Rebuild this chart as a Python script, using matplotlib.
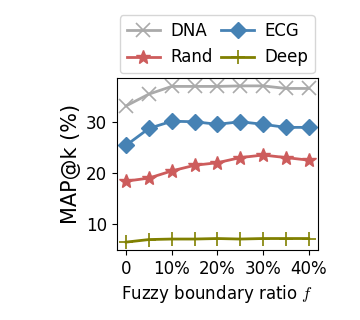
import matplotlib
matplotlib.use('Agg')
import matplotlib.pyplot as plt

plt.rcParams['mathtext.fontset'] = 'cm'

# fuzzy boundary ratio f
ratio = [0, 0.05, 0.10, 0.15, 0.20, 0.25, 0.30, 0.35, 0.40]
dna = [33.1, 35.4, 36.9, 36.9, 36.9, 37.0, 37.0, 36.5, 36.5]
ecg = [25.4, 28.7, 30.1, 30.0, 29.5, 30.0, 29.5, 28.9, 28.9]
rand = [18.4, 19.0, 20.4, 21.5, 22.0, 23.0, 23.5, 23.0, 22.5]
deep = [6.5, 7.0, 7.1, 7.1, 7.2, 7.1, 7.2, 7.2, 7.2]

xticks = [0, 0.1, 0.2, 0.3, 0.4]
xticklabels = ['0', '10%', '20%', '30%', '40%']

fig = plt.figure(figsize=(3.6, 3.2), dpi=100)
ax = fig.add_axes([0.325, 0.219, 0.558, 0.537])

ax.plot(ratio, dna, marker='x', color='#aaaaaa', lw=2, ms=10, mew=1.2, label='DNA')
ax.plot(ratio, rand, marker='*', color='#cd5c5c', lw=2, ms=10, label='Rand')
ax.plot(ratio, ecg, marker='D', color='#4682b4', lw=2, ms=8, label='ECG')
ax.plot(ratio, deep, marker='+', color='#808000', lw=2, ms=10, mew=1.2, label='Deep')

ax.set_xticks(xticks)
ax.set_xticklabels(xticklabels)
ax.set_yticks([10, 20, 30])
ax.tick_params(labelsize=12)
ax.set_ylabel('MAP@k (%)', fontsize=15)
ax.set_xlabel('Fuzzy boundary ratio $f$', fontsize=12)

ax.legend(ncol=2, loc='lower center', bbox_to_anchor=(0.5, 1.0), fontsize=12,
          handlelength=2.0, columnspacing=0.5, handletextpad=0.6, borderaxespad=0.3)

fig.savefig('out.png', dpi=100)
